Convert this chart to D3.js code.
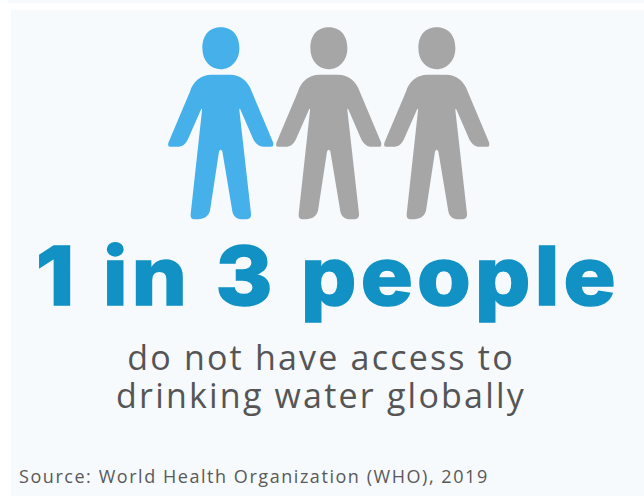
<!DOCTYPE html>
<html><head><meta charset="utf-8">
<script src="https://cdn.jsdelivr.net/npm/d3@7/dist/d3.min.js"></script>
<style>html,body{margin:0;padding:0;background:#fff}svg{display:block}</style>
</head><body><div id="c"></div>
<script>
const people = ["p1","p2","p3"];
const affected = [1,0,0];
const headline = "1 in 3 people";
const subLines = ["do not have access to","drinking water globally"];
const source = "Source: World Health Organization (WHO), 2019";
const W=644,H=496;
const svg=d3.select("#c").append("svg").attr("width",W).attr("height",H);
svg.append("rect").attr("x",8).attr("y",0).attr("width",636).attr("height",3).attr("fill","#f6fafd");
svg.append("rect").attr("x",11).attr("y",10).attr("width",633).attr("height",486).attr("fill","#f6fafd");
const x=d3.scalePoint().domain(people).range([220.7,436.7]);
const color=d3.scaleOrdinal().domain([1,0]).range(["#45b0ea","#a6a6a6"]);
function glyph(){
  const p=d3.path();
  const u=v=>v/3;
  p.moveTo(u(-55),u(38));p.bezierCurveTo(u(-55),u(-6),u(-30),u(-25),u(0),u(-25));
  p.bezierCurveTo(u(30),u(-25),u(56),u(-6),u(56),u(38));
  p.bezierCurveTo(u(56),u(76),u(30),u(101),u(0),u(101));
  p.bezierCurveTo(u(-30),u(101),u(-55),u(76),u(-55),u(38));p.closePath();
  p.moveTo(u(-27),u(118));p.lineTo(u(28),u(118));
  p.bezierCurveTo(u(60),u(118),u(84),u(140),u(93),u(168));
  p.lineTo(u(157),u(320));p.quadraticCurveTo(u(161),u(334),u(150),u(334));
  p.lineTo(u(128),u(334));p.bezierCurveTo(u(115),u(334),u(105),u(325),u(98),u(312));
  p.lineTo(u(60),u(224));p.quadraticCurveTo(u(56),u(216),u(56),u(224));
  p.lineTo(u(91),u(535));p.quadraticCurveTo(u(92),u(551),u(78),u(551));
  p.lineTo(u(60),u(551));p.bezierCurveTo(u(48),u(551),u(38),u(542),u(35),u(528));
  p.lineTo(u(5),u(348));p.quadraticCurveTo(u(0),u(338),u(-5),u(348));
  p.lineTo(u(-32),u(525));p.bezierCurveTo(u(-36),u(542),u(-50),u(551),u(-68),u(551));
  p.lineTo(u(-80),u(551));p.quadraticCurveTo(u(-92),u(551),u(-90),u(535));
  p.lineTo(u(-56),u(224));p.quadraticCurveTo(u(-56),u(216),u(-60),u(224));
  p.lineTo(u(-97),u(308));p.bezierCurveTo(u(-104),u(325),u(-115),u(334),u(-130),u(334));
  p.lineTo(u(-152),u(334));p.quadraticCurveTo(u(-160),u(334),u(-157),u(322));
  p.lineTo(u(-92),u(168));p.bezierCurveTo(u(-84),u(140),u(-60),u(118),u(-27),u(118));
  p.closePath();
  return p.toString();
}
svg.selectAll("path.person").data(people).join("path").attr("class","person")
  .attr("d",glyph()).attr("transform",d=>`translate(${x(d)},35.5)`)
  .attr("fill",(d,i)=>color(affected[i]));
svg.append("text").attr("x",36).attr("y",305).text(headline)
  .attr("font-family","Inter").attr("font-weight",800).attr("font-size",81)
  .attr("letter-spacing",4).attr("word-spacing",1)
  .attr("stroke","#1191c4").attr("stroke-width",1.5)
  .attr("fill","#1191c4").attr("textLength",584).attr("lengthAdjust","spacingAndGlyphs");
const yl=d3.scalePoint().domain(subLines).range([370,408]);
svg.selectAll("text.sub").data(subLines).join("text").attr("class","sub")
  .attr("x",321).attr("y",d=>yl(d)).attr("text-anchor","middle").text(d=>d)
  .attr("font-family","'Open Sans'").attr("font-size",34).attr("letter-spacing",2.2).attr("fill","#555");
svg.append("text").attr("x",19).attr("y",483).text(source)
  .attr("font-family","'Open Sans'").attr("font-size",18).attr("letter-spacing",1.55).attr("fill","#595959");
</script></body></html>
